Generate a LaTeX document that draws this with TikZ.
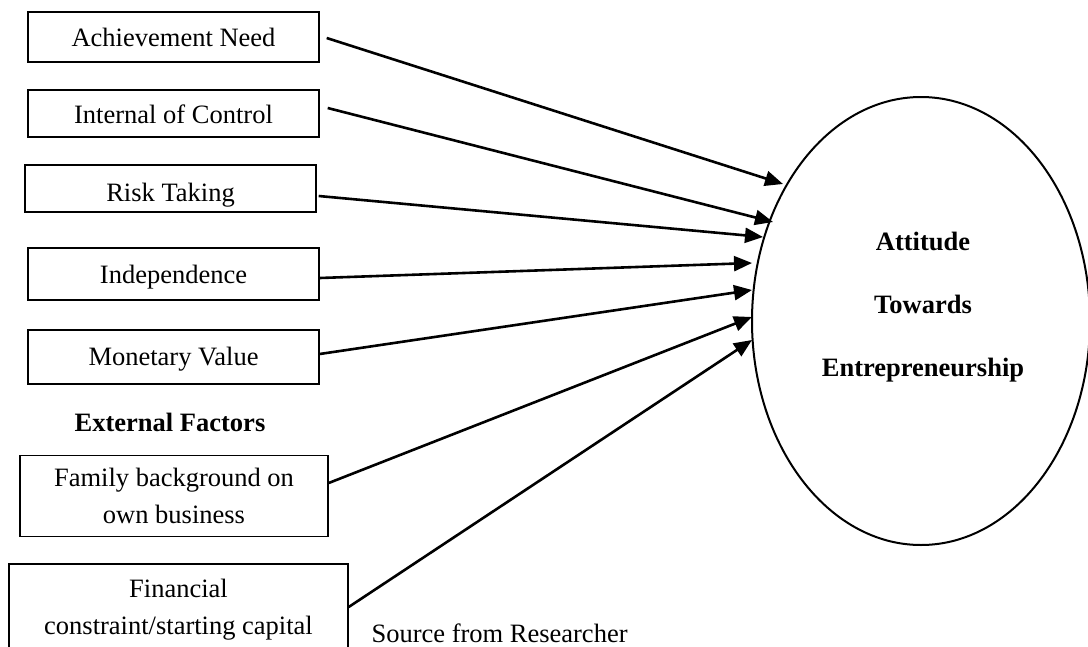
\documentclass[tikz,border=0pt]{standalone}
\usepackage{fontspec}
\setmainfont{Liberation Serif}
\usetikzlibrary{shapes.geometric,arrows.meta}
\begin{document}
\begin{tikzpicture}[x=1pt,y=-1pt,
  every node/.style={font=\fontsize{26.5}{37}\selectfont},
  factorbox/.style={draw,line width=1.4pt,rectangle,inner sep=0pt,align=center},
  arr/.style={line width=2.6pt,-{Triangle[length=18pt,width=15pt]}},
  bigell/.style={draw,ellipse,line width=2pt,inner sep=0pt}]
\useasboundingbox (0,0) rectangle (1088,646);
% factor boxes
\node[factorbox,minimum width=291,minimum height=50,text height=19pt,text depth=0pt] (ach) at (173.5,37) {Achievement Need};
\node[factorbox,minimum width=291,minimum height=47,text height=19pt,text depth=0pt] (int) at (173.5,113.5) {Internal of Control};
\node[factorbox,minimum width=291,minimum height=47,text height=26pt,text depth=0pt] (risk) at (170.5,188.5) {Risk Taking};
\node[factorbox,minimum width=291,minimum height=52,text height=19pt,text depth=0pt] (ind) at (173.5,274) {Independence};
\node[factorbox,minimum width=291,minimum height=54,text height=16pt,text depth=0pt] (mon) at (173.5,357) {Monetary Value};
\node[font=\fontsize{26.5}{37}\selectfont\bfseries] (ext) at (170,422) {External Factors};
\node[factorbox,minimum width=308,minimum height=81] (fam) at (174,496) {Family background on\\own business};
\node[factorbox,minimum width=339,minimum height=91] (fin) at (178.5,609.5) {Financial\\constraint/starting capital};
\node[anchor=base west] (src) at (368,642) {Source from Researcher};
% ellipse
\node[bigell,minimum width=338,minimum height=448] (ell) at (921,321) {};
\node[font=\fontsize{26.5}{63}\selectfont\bfseries,align=center] (att) at (923,307) {Attitude\\Towards\\Entrepreneurship};
% arrow end points on the ellipse
\coordinate (e1) at (783,184);
\coordinate (e2) at (773,222);
\coordinate (e3) at (763,237);
\coordinate (e4) at (752,263);
\coordinate (e5) at (752,290);
\coordinate (e6) at (752,317);
\coordinate (e7) at (752,340);
% connectors
\draw[arr] ([shift={(7,1)}]ach.east) -- (e1);
\draw[arr] ([shift={(8,-5.5)}]int.east) -- (e2);
\draw[arr] ([shift={(2,7.5)}]risk.east) -- (e3);
\draw[arr] ([shift={(0,4)}]ind.east) -- (e4);
\draw[arr] ([shift={(0,-3)}]mon.east) -- (e5);
\draw[arr] ([shift={(0,-13)}]fam.east) -- (e6);
\draw[arr] ([shift={(0,-2.5)}]fin.east) -- (e7);
\end{tikzpicture}
\end{document}
